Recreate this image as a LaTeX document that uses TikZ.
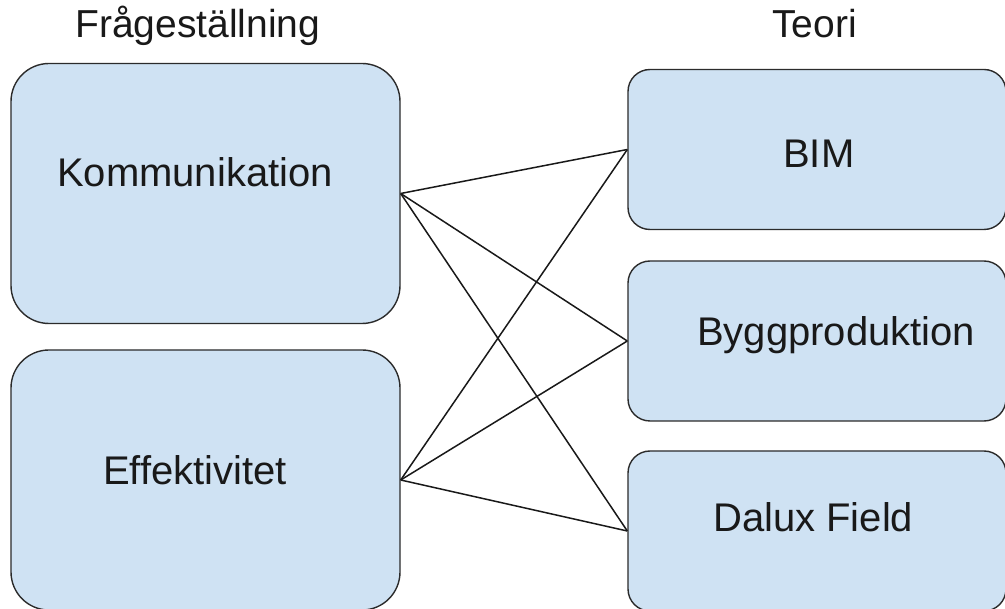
\documentclass[tikz,border=0pt]{standalone}
\usepackage{fontspec}
\setmainfont{Liberation Sans}
\definecolor{boxfill}{HTML}{CFE2F3}
\definecolor{boxline}{HTML}{2B2B2B}
\begin{document}
\begin{tikzpicture}[x=1pt,y=-1pt,
  bigbox/.style={draw=boxline,fill=boxfill,line width=1.4pt,rounded corners=38pt,inner sep=0pt,minimum width=389pt,minimum height=260pt},
  smallbox/.style={draw=boxline,fill=boxfill,line width=1.4pt,rounded corners=22pt,inner sep=0pt,minimum width=378pt,minimum height=160pt},
  boxtext/.style={anchor=base west,inner sep=0pt,font=\fontsize{40}{48}\selectfont,text=black!90},
  titletext/.style={anchor=base west,inner sep=0pt,font=\fontsize{39}{46}\selectfont,text=black!90},
  link/.style={draw=black!90,line width=1.5pt}]
\useasboundingbox (0,0) rectangle (1005,609);
\clip (0,0) rectangle (1005,609);
\fill[white] (0,0) rectangle (1005,609);
% boxes
\node[bigbox] (kom) at (205.5,193.5) {};
\node[bigbox] (eff) at (205.5,480) {};
\node[smallbox] (bim) at (817,149.5) {};
\node[smallbox] (byg) at (817,341) {};
\node[smallbox] (dal) at (817,531) {};
% texts
\node[titletext] (t1) at (75,38) {Frågeställning};
\node[titletext] (t2) at (772,38) {Teori};
\node[boxtext] (l1) at (57,187) {Kommunikation};
\node[boxtext] (l2) at (103,485) {Effektivitet};
\node[boxtext] (l3) at (783,168) {BIM};
\node[boxtext] (l4) at (697,346) {Byggproduktion};
\node[boxtext] (l5) at (713,532) {Dalux Field};
% connectors
\foreach \a in {kom,eff}{
  \foreach \b in {bim,byg,dal}{
    \draw[link] (\a.east) -- (\b.west);
  }
}
\end{tikzpicture}
\end{document}
